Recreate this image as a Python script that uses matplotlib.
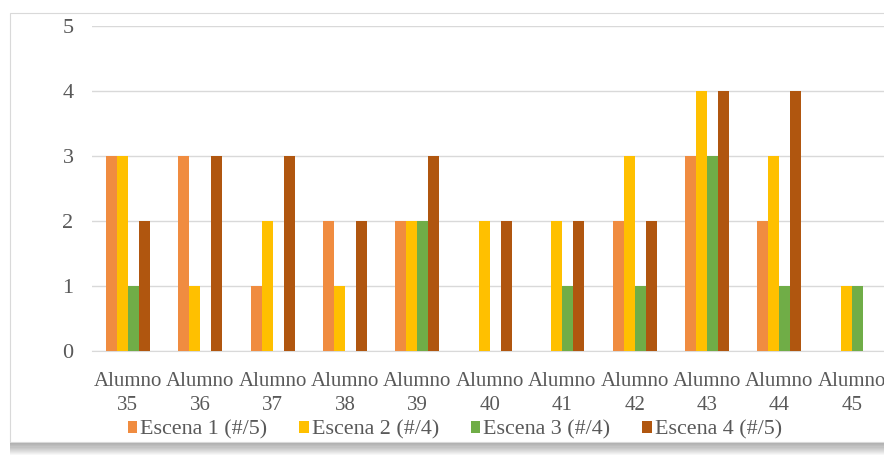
import matplotlib
matplotlib.use("Agg")
import matplotlib.pyplot as plt
import numpy as np
from matplotlib.patches import Rectangle, Patch

# Scores per student and scene
students = ["Alumno\n35", "Alumno\n36", "Alumno\n37", "Alumno\n38", "Alumno\n39",
            "Alumno\n40", "Alumno\n41", "Alumno\n42", "Alumno\n43", "Alumno\n44",
            "Alumno\n45"]
series_names = ["Escena 1 (#/5)", "Escena 2 (#/4)", "Escena 3 (#/4)", "Escena 4 (#/5)"]
escena1 = [3, 3, 1, 2, 2, 0, 0, 2, 3, 2, 0]
escena2 = [3, 1, 2, 1, 2, 2, 2, 3, 4, 3, 1]
escena3 = [1, 0, 0, 0, 2, 0, 1, 1, 3, 1, 1]
escena4 = [2, 3, 3, 2, 3, 2, 2, 2, 4, 4, 0]
yticks = [0, 1, 2, 3, 4, 5]

colors = ["#F08C40", "#FFC000", "#70AD47", "#B0560F"]
text_color = "#595959"
font = ["Liberation Serif", "DejaVu Serif"]
plt.rcParams["font.family"] = font

W, H = 884, 473
fig = plt.figure(figsize=(W / 100, H / 100), dpi=100)
fig.patch.set_facecolor("white")

# Chart frame with a soft drop shadow
fx0, fy_top, fy_bot, fx1 = 10, 13, 442, 920
for i in range(12, 0, -1):
    fig.add_artist(Rectangle((fx0 / W, (H - fy_bot - i * 1.1) / H),
                             (fx1 - fx0) / W, (fy_bot - fy_top) / H,
                             transform=fig.transFigure, facecolor="black",
                             edgecolor="none", alpha=0.03, zorder=-3))
fig.add_artist(Rectangle((fx0 / W, (H - fy_bot) / H), (fx1 - fx0) / W,
                         (fy_bot - fy_top) / H, transform=fig.transFigure,
                         facecolor="white", edgecolor="#D9D9D9", lw=0.8, zorder=-2))

ax_left, ax_right, ax_top, ax_bot = 91.5, 888, 26, 351
ax = fig.add_axes([ax_left / W, (H - ax_bot) / H, (ax_right - ax_left) / W,
                   (ax_bot - ax_top) / H])
ax.set_facecolor("none")

x = np.arange(len(students))
bw = 0.152
data = [escena1, escena2, escena3, escena4]
for k, (vals, c) in enumerate(zip(data, colors)):
    ax.bar(x + (k - 1.5) * bw, vals, width=bw, color=c, zorder=3, linewidth=0)

ax.set_xlim(-0.5, len(students) - 0.5)
ax.set_ylim(0, 5)
ax.set_yticks(yticks)
ax.set_yticklabels([str(v) for v in yticks], fontsize=16)
ax.set_xticks(x)
ax.set_xticklabels(students, linespacing=1.35, fontsize=15)
ax.grid(axis="y", color="#D9D9D9", lw=1, zorder=0)
for s in ["top", "right", "left"]:
    ax.spines[s].set_visible(False)
ax.spines["bottom"].set_color("#D9D9D9")
ax.tick_params(axis="both", length=0, colors=text_color)
ax.tick_params(axis="y", pad=13)
ax.tick_params(axis="x", pad=15)

handles = [Patch(facecolor=c, edgecolor="none") for c in colors]
fig.legend(handles, series_names, loc="center", ncol=4,
           bbox_to_anchor=(455 / W, 1 - 430 / H), frameon=False,
           fontsize=15.8, labelcolor=text_color, handlelength=0.42,
           handleheight=0.5, handletextpad=0.15, columnspacing=1.45,
           borderaxespad=0)

fig.savefig("out.png", dpi=100)
